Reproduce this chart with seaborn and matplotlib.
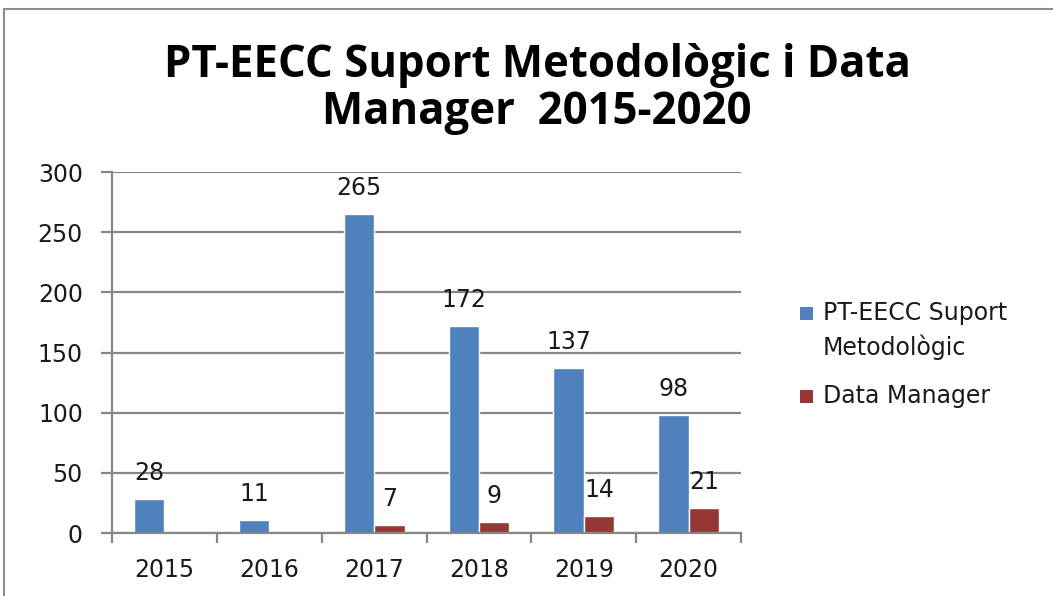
import numpy as np
import pandas as pd
import matplotlib
matplotlib.use("Agg")
import matplotlib.pyplot as plt
import seaborn as sns
from matplotlib.lines import Line2D
from matplotlib.patches import Rectangle

years = ["2015", "2016", "2017", "2018", "2019", "2020"]
suport = [28, 11, 265, 172, 137, 98]
data_manager = [np.nan, np.nan, 7, 9, 14, 21]
series_names = ["PT-EECC Suport\nMetodològic", "Data Manager"]
colors = ["#4F81BD", "#953735"]
title = "PT-EECC Suport Metodològic i Data\nManager  2015-2020"
yticks = [0, 50, 100, 150, 200, 250, 300]

df = pd.DataFrame({
    "year": years * 2,
    "value": suport + data_manager,
    "series": [series_names[0]] * len(years) + [series_names[1]] * len(years),
})

sns.set_theme(style="white")
plt.rcParams["font.family"] = ["DejaVu Sans"]

txt = "#1a1a1a"
grey = "#878787"
fs = 17

fig = plt.figure(figsize=(10.53, 5.96), dpi=100)
ax = fig.add_axes([0.1064, 0.1057, 0.5973, 0.6057])

sns.barplot(data=df, x="year", y="value", hue="series", palette=colors,
            width=0.58, gap=0, ax=ax, legend=False, errorbar=None,
            saturation=1)

ax.set_ylim(0, 300)
ax.set_xlim(-0.5, len(years) - 0.5)
ax.set_yticks(yticks)
ax.set_yticklabels([str(t) for t in yticks], fontsize=fs, color=txt)
ax.yaxis.grid(True, color=grey, linewidth=1.6)
ax.set_axisbelow(True)
ax.set_xlabel("")
ax.set_ylabel("")
for s in ["top", "right"]:
    ax.spines[s].set_visible(False)
for s in ["left", "bottom"]:
    ax.spines[s].set_color(grey)
    ax.spines[s].set_linewidth(1.6)
ax.tick_params(axis="y", which="major", length=8, width=1.6, color=grey,
               direction="out", left=True, pad=13)
ax.tick_params(axis="x", which="major", length=0, labelsize=fs, pad=18,
               labelcolor=txt)
ax.set_xticks(np.arange(-0.5, len(years)), minor=True)
ax.tick_params(axis="x", which="minor", length=7, width=1.6, color=grey,
               direction="out", bottom=True)

for cont in ax.containers:
    labels = ["" if not np.isfinite(v) else f"{v:.0f}" for v in cont.datavalues]
    ax.bar_label(cont, labels=labels, padding=10, fontsize=fs, color=txt)

# legend (handle aligned with first text line, like the original)
W, H = 1053, 596
leg_x = 800 / W
leg_tx = 823 / W
entries_top = [301 / H, 384 / H]
sq = 13
for name, col, top in zip(series_names, colors, entries_top):
    ytop = 1 - top
    fig.text(leg_tx, ytop, name, ha="left", va="top", fontsize=fs,
             color=txt, linespacing=1.45)
    fig.add_artist(Rectangle((leg_x, ytop - (6 + sq) / H), sq / W, sq / H,
                             transform=fig.transFigure, facecolor=col,
                             edgecolor="none"))

fig.text(0.51, 1 - 89 / H, title, ha="center", va="center", fontsize=31.5,
         fontweight="bold", family=["Open Sans", "DejaVu Sans"],
         linespacing=1.08, color="black")

fig.add_artist(Line2D([4 / W, 1], [1 - 9 / H, 1 - 9 / H],
                      transform=fig.transFigure, color="#8c8c8c", linewidth=1.5))
fig.add_artist(Line2D([4 / W, 4 / W], [0, 1 - 9 / H],
                      transform=fig.transFigure, color="#8c8c8c", linewidth=1.5))

fig.savefig("out.png", dpi=100)
